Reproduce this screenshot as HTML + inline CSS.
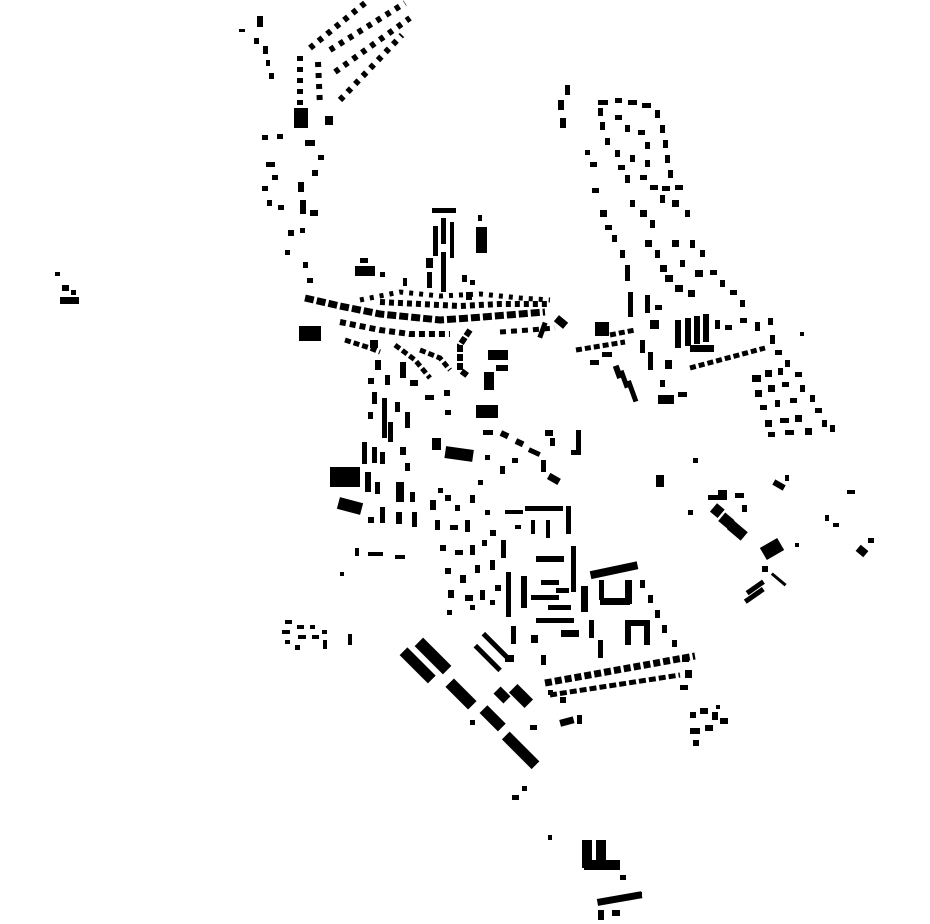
<!DOCTYPE html>
<html><head><meta charset="utf-8"><style>html,body{margin:0;padding:0;background:#fff}svg{display:block}</style></head>
<body>
<svg width="930" height="924" viewBox="0 0 930 924" xmlns="http://www.w3.org/2000/svg" fill="#000">
<!-- NW strip -->
<g>
<rect x="257" y="16" width="6" height="11"/><rect x="239" y="29" width="6" height="3"/><rect x="254" y="38" width="5" height="6"/><rect x="263" y="46" width="5" height="8"/><rect x="266" y="60" width="4" height="6"/><rect x="269" y="73" width="5" height="6"/>
<g fill="none" stroke="#000" stroke-width="6" stroke-dasharray="5 6">
<line x1="310" y1="48" x2="365" y2="3"/>
<line x1="330" y1="50" x2="405" y2="3"/>
<line x1="335" y1="72" x2="410" y2="18"/>
<line x1="340" y1="100" x2="402" y2="35"/>
<line x1="300" y1="56" x2="300" y2="106"/>
<line x1="318" y1="62" x2="320" y2="106"/>
</g>
<rect x="294" y="108" width="14" height="20"/><rect x="325" y="116" width="8" height="9"/>
</g>
<!-- column 260-330 y100-240 -->
<g>
<rect x="262" y="135" width="6" height="5"/><rect x="277" y="134" width="6" height="5"/><rect x="266" y="162" width="9" height="5"/><rect x="272" y="175" width="6" height="5"/><rect x="262" y="186" width="6" height="5"/><rect x="267" y="200" width="5" height="6"/><rect x="278" y="205" width="6" height="5"/><rect x="298" y="182" width="6" height="10"/><rect x="300" y="200" width="6" height="14"/><rect x="310" y="210" width="8" height="6"/><rect x="305" y="140" width="10" height="6"/><rect x="312" y="170" width="6" height="6"/><rect x="318" y="155" width="6" height="5"/><rect x="288" y="230" width="6" height="6"/><rect x="300" y="228" width="5" height="5"/><rect x="285" y="250" width="5" height="5"/><rect x="303" y="262" width="5" height="6"/><rect x="307" y="278" width="6" height="5"/>
<rect x="299" y="326" width="22" height="15"/>
<rect x="55" y="272" width="5" height="4"/><rect x="62" y="285" width="7" height="6"/><rect x="60" y="297" width="19" height="7"/><rect x="71" y="290" width="5" height="5"/>
</g>
<!-- central north spire -->
<g>
<rect x="432" y="208" width="24" height="5"/><rect x="441" y="218" width="5" height="26"/><rect x="450" y="222" width="4" height="36"/><rect x="433" y="226" width="5" height="30"/><rect x="426" y="258" width="7" height="10"/><rect x="441" y="252" width="5" height="40"/><rect x="427" y="272" width="5" height="16"/><rect x="476" y="227" width="11" height="26"/><rect x="478" y="215" width="4" height="6"/>
<rect x="355" y="266" width="20" height="10"/><rect x="360" y="258" width="8" height="5"/><rect x="380" y="272" width="5" height="5"/><rect x="403" y="278" width="4" height="8"/><rect x="462" y="275" width="5" height="7"/><rect x="470" y="280" width="5" height="5"/><rect x="466" y="292" width="6" height="8"/>
</g>
<!-- central dense band -->
<g fill="none" stroke="#000">
<polyline stroke-width="7" stroke-dasharray="9 3" points="305,298 340,306 380,314 440,320 470,318 520,314 545,312"/>
<polyline stroke-width="6" stroke-dasharray="6 4" points="340,322 380,330 410,334 450,334"/>
<polyline stroke-width="6" stroke-dasharray="5 4" points="380,302 420,304 460,306 500,304 550,304"/>
<polyline stroke-width="5" stroke-dasharray="4 6" points="360,300 400,292 440,296 480,294 520,298 550,300"/>
<polyline stroke-width="5" stroke-dasharray="6 5" points="500,332 530,330 555,328"/>
<polyline stroke-width="6" stroke-dasharray="7 2" points="470,330 460,345 460,370 468,376"/>
<polyline stroke-width="5" stroke-dasharray="6 3" points="345,340 370,348 380,352"/>
<polyline stroke-width="5" stroke-dasharray="6 3" points="395,345 415,360 430,378"/>
<polyline stroke-width="5" stroke-dasharray="6 3" points="420,350 440,358 450,370"/>
</g>
<g>
<rect x="555" y="318" width="12" height="8" transform="rotate(40 561 322)"/><rect x="540" y="322" width="5" height="16" transform="rotate(20 542 330)"/>
<rect x="488" y="350" width="20" height="10"/>
<rect x="484" y="372" width="10" height="18"/>
<rect x="476" y="405" width="22" height="13"/>
<rect x="496" y="365" width="12" height="6"/>
</g>
<!-- south-central west column -->
<g>
<rect x="370" y="340" width="8" height="8"/><rect x="375" y="360" width="6" height="10"/><rect x="400" y="362" width="6" height="16"/><rect x="368" y="378" width="6" height="6"/><rect x="385" y="375" width="5" height="10"/><rect x="410" y="380" width="8" height="6"/>
<rect x="372" y="392" width="5" height="12"/><rect x="382" y="398" width="5" height="40"/><rect x="395" y="402" width="5" height="10"/><rect x="405" y="412" width="5" height="16"/><rect x="388" y="422" width="5" height="20"/><rect x="368" y="412" width="5" height="7"/>
<rect x="425" y="395" width="9" height="5"/><rect x="444" y="390" width="6" height="6"/><rect x="445" y="410" width="6" height="5"/>
<rect x="362" y="442" width="5" height="22"/><rect x="372" y="447" width="5" height="16"/><rect x="380" y="452" width="5" height="12"/><rect x="400" y="447" width="6" height="8"/><rect x="405" y="463" width="5" height="8"/>
<rect x="330" y="467" width="30" height="20"/><rect x="338" y="500" width="24" height="12" transform="rotate(15 350 506)"/>
<rect x="365" y="472" width="6" height="20"/><rect x="375" y="482" width="5" height="12"/><rect x="396" y="482" width="8" height="20"/><rect x="410" y="492" width="5" height="10"/><rect x="412" y="512" width="5" height="15"/><rect x="396" y="512" width="6" height="12"/><rect x="380" y="507" width="5" height="16"/><rect x="368" y="517" width="6" height="6"/>
<rect x="432" y="438" width="9" height="12"/><rect x="445" y="448" width="28" height="12" transform="rotate(8 459 455)"/>
<rect x="355" y="548" width="4" height="8"/><rect x="368" y="552" width="15" height="4"/><rect x="395" y="555" width="10" height="4"/><rect x="340" y="572" width="4" height="4"/>
</g>
<!-- central scatter -->
<g>
<rect x="483" y="430" width="10" height="5"/><rect x="500" y="432" width="8" height="6" transform="rotate(25 505 436)"/><rect x="515" y="440" width="8" height="6" transform="rotate(25 520 444)"/><rect x="528" y="450" width="12" height="5" transform="rotate(25 535 453)"/><rect x="545" y="430" width="8" height="6"/><rect x="550" y="438" width="5" height="8"/><rect x="576" y="430" width="5" height="22"/><rect x="571" y="450" width="10" height="5"/><rect x="541" y="460" width="5" height="12"/><rect x="548" y="476" width="12" height="7" transform="rotate(30 555 479)"/><rect x="500" y="466" width="5" height="8"/><rect x="485" y="455" width="5" height="5"/><rect x="512" y="458" width="6" height="5"/>
</g>
<!-- center-south grid -->
<g>
<rect x="430" y="500" width="6" height="10"/><rect x="445" y="495" width="6" height="6"/><rect x="438" y="488" width="5" height="5"/><rect x="455" y="505" width="5" height="6"/><rect x="470" y="495" width="5" height="8"/><rect x="478" y="480" width="5" height="5"/><rect x="485" y="510" width="5" height="5"/>
<rect x="435" y="520" width="5" height="10"/><rect x="450" y="525" width="8" height="5"/><rect x="465" y="520" width="5" height="12"/><rect x="440" y="545" width="6" height="6"/><rect x="455" y="550" width="8" height="5"/><rect x="470" y="545" width="5" height="10"/><rect x="482" y="540" width="5" height="6"/><rect x="490" y="530" width="6" height="6"/>
<rect x="445" y="568" width="6" height="6"/><rect x="460" y="575" width="6" height="8"/><rect x="475" y="565" width="5" height="8"/><rect x="490" y="560" width="5" height="10"/><rect x="448" y="590" width="6" height="8"/><rect x="465" y="595" width="8" height="6"/><rect x="480" y="590" width="5" height="10"/><rect x="495" y="585" width="6" height="6"/><rect x="447" y="610" width="5" height="5"/><rect x="470" y="605" width="5" height="5"/><rect x="490" y="600" width="5" height="5"/>
<rect x="505" y="510" width="18" height="4"/><rect x="525" y="506" width="38" height="5"/><rect x="566" y="506" width="5" height="28"/><rect x="546" y="520" width="4" height="18"/><rect x="531" y="520" width="4" height="14"/><rect x="515" y="525" width="6" height="4"/>
<rect x="501" y="540" width="5" height="18"/><rect x="506" y="572" width="5" height="45"/><rect x="511" y="626" width="5" height="18"/>
<rect x="536" y="556" width="28" height="6"/><rect x="571" y="546" width="5" height="46"/><rect x="521" y="576" width="6" height="32"/><rect x="541" y="580" width="18" height="5"/><rect x="531" y="595" width="28" height="5"/><rect x="548" y="605" width="23" height="5"/><rect x="536" y="618" width="38" height="5"/><rect x="581" y="586" width="7" height="26"/><rect x="556" y="588" width="13" height="5"/><rect x="531" y="635" width="7" height="8"/><rect x="561" y="630" width="18" height="7"/><rect x="541" y="655" width="5" height="10"/><rect x="589" y="620" width="5" height="18"/>
<rect x="590" y="566" width="48" height="8" transform="rotate(-12 615 570)"/><rect x="600" y="598" width="30" height="7"/><rect x="625" y="580" width="7" height="24"/><rect x="599" y="580" width="5" height="20"/>
<rect x="625" y="620" width="6" height="25"/><rect x="625" y="620" width="25" height="6"/><rect x="644" y="620" width="6" height="25"/>
<rect x="640" y="580" width="5" height="8"/><rect x="648" y="595" width="5" height="8"/><rect x="655" y="610" width="5" height="8"/><rect x="662" y="625" width="5" height="8"/><rect x="672" y="640" width="5" height="7"/><rect x="682" y="655" width="7" height="7"/><rect x="598" y="640" width="5" height="18"/>
<g fill="none" stroke="#000" stroke-dasharray="7 3">
<line x1="545" y1="683" x2="695" y2="656" stroke-width="7"/>
<line x1="550" y1="695" x2="680" y2="675" stroke-width="5"/>
</g>
<rect x="560" y="697" width="6" height="6"/><rect x="548" y="690" width="5" height="5"/><rect x="685" y="670" width="7" height="8"/><rect x="680" y="685" width="8" height="5"/>
<rect x="560" y="718" width="14" height="7" transform="rotate(-15 567 722)"/><rect x="577" y="715" width="5" height="9"/>
</g>
<!-- SW diagonal bars -->
<g>
<rect x="398" y="660" width="40" height="11" transform="rotate(45 418 665)"/><rect x="413" y="650" width="40" height="12" transform="rotate(45 433 656)"/><rect x="445" y="688" width="32" height="12" transform="rotate(45 461 694)"/><rect x="470" y="655" width="35" height="5" transform="rotate(45 487 658)"/><rect x="478" y="643" width="35" height="5" transform="rotate(45 495 646)"/><rect x="480" y="713" width="26" height="11" transform="rotate(45 493 718)"/><rect x="510" y="690" width="22" height="12" transform="rotate(45 521 696)"/><rect x="495" y="690" width="14" height="10" transform="rotate(45 502 695)"/><rect x="500" y="745" width="42" height="11" transform="rotate(45 521 750)"/><rect x="505" y="655" width="9" height="7"/><rect x="530" y="725" width="7" height="5"/><rect x="470" y="720" width="5" height="5"/><rect x="512" y="795" width="7" height="5"/><rect x="522" y="786" width="5" height="5"/>
<rect x="285" y="620" width="7" height="4"/><rect x="282" y="630" width="8" height="4"/><rect x="285" y="640" width="5" height="4"/><rect x="297" y="625" width="7" height="4"/><rect x="298" y="635" width="8" height="4"/><rect x="295" y="645" width="5" height="5"/><rect x="310" y="625" width="5" height="4"/><rect x="312" y="635" width="7" height="4"/><rect x="322" y="630" width="5" height="4"/><rect x="323" y="640" width="4" height="9"/><rect x="348" y="634" width="4" height="11"/>
</g>
<!-- far south -->
<g>
<rect x="582" y="840" width="10" height="28"/><rect x="596" y="840" width="10" height="25"/><rect x="584" y="860" width="36" height="10"/><rect x="548" y="835" width="4" height="5"/><rect x="620" y="875" width="6" height="5"/><rect x="597" y="895" width="45" height="7" transform="rotate(-10 620 898)"/><rect x="598" y="910" width="6" height="10"/><rect x="612" y="910" width="8" height="6"/><rect x="636" y="892" width="6" height="6"/>
</g>
<!-- east big cluster -->
<g>
<rect x="565" y="85" width="5" height="10"/><rect x="558" y="100" width="6" height="10"/><rect x="560" y="118" width="6" height="10"/>
<rect x="598" y="100" width="10" height="5"/><rect x="615" y="98" width="7" height="5"/><rect x="628" y="100" width="9" height="5"/><rect x="642" y="103" width="9" height="5"/><rect x="655" y="110" width="5" height="8"/><rect x="660" y="125" width="5" height="8"/><rect x="663" y="140" width="5" height="8"/><rect x="665" y="155" width="5" height="8"/>
<rect x="598" y="108" width="5" height="8"/><rect x="600" y="122" width="5" height="8"/><rect x="605" y="138" width="5" height="7"/><rect x="615" y="115" width="7" height="5"/><rect x="625" y="125" width="5" height="7"/><rect x="638" y="130" width="7" height="5"/><rect x="645" y="142" width="5" height="7"/>
<rect x="585" y="150" width="5" height="5"/><rect x="590" y="162" width="7" height="5"/><rect x="592" y="188" width="7" height="5"/><rect x="615" y="150" width="5" height="7"/><rect x="618" y="165" width="7" height="5"/><rect x="625" y="175" width="5" height="8"/><rect x="630" y="155" width="5" height="7"/><rect x="645" y="160" width="5" height="7"/><rect x="640" y="175" width="7" height="5"/><rect x="650" y="185" width="8" height="5"/><rect x="662" y="186" width="8" height="5"/><rect x="675" y="185" width="8" height="5"/><rect x="660" y="195" width="5" height="8"/><rect x="668" y="170" width="5" height="8"/><rect x="672" y="200" width="7" height="7"/><rect x="685" y="210" width="5" height="7"/>
<rect x="600" y="210" width="7" height="7"/><rect x="605" y="225" width="7" height="5"/><rect x="612" y="235" width="5" height="7"/><rect x="620" y="250" width="5" height="8"/><rect x="625" y="265" width="5" height="16"/><rect x="628" y="292" width="5" height="25"/><rect x="630" y="200" width="5" height="7"/><rect x="640" y="210" width="7" height="7"/><rect x="650" y="220" width="5" height="8"/><rect x="645" y="240" width="7" height="7"/><rect x="655" y="250" width="5" height="8"/><rect x="660" y="265" width="7" height="7"/><rect x="665" y="275" width="8" height="7"/><rect x="675" y="285" width="8" height="7"/><rect x="680" y="260" width="5" height="7"/><rect x="672" y="240" width="7" height="7"/><rect x="690" y="240" width="5" height="8"/><rect x="700" y="250" width="5" height="7"/><rect x="710" y="270" width="7" height="5"/><rect x="720" y="280" width="5" height="7"/><rect x="730" y="290" width="7" height="5"/><rect x="740" y="300" width="5" height="7"/><rect x="695" y="270" width="8" height="7"/><rect x="688" y="290" width="7" height="7"/>
<rect x="645" y="295" width="5" height="18"/><rect x="655" y="305" width="7" height="5"/><rect x="650" y="320" width="9" height="9"/>
<rect x="595" y="322" width="14" height="14"/>
<g fill="none" stroke="#000" stroke-dasharray="6 3" stroke-width="5">
<line x1="576" y1="350" x2="625" y2="342"/><line x1="610" y1="335" x2="635" y2="330"/><line x1="690" y1="368" x2="765" y2="348"/>
</g>
<rect x="590" y="360" width="9" height="5"/><rect x="602" y="352" width="10" height="5"/><rect x="615" y="365" width="6" height="13" transform="rotate(-20 619 372)"/><rect x="622" y="370" width="5" height="18" transform="rotate(-20 625 380)"/><rect x="630" y="380" width="5" height="22" transform="rotate(-20 633 392)"/><rect x="640" y="340" width="5" height="13"/><rect x="648" y="352" width="5" height="18"/><rect x="658" y="395" width="16" height="9"/><rect x="678" y="392" width="9" height="5"/>
<rect x="675" y="320" width="6" height="28"/><rect x="685" y="318" width="6" height="28"/><rect x="694" y="316" width="6" height="28"/><rect x="703" y="314" width="6" height="28"/><rect x="690" y="345" width="24" height="7"/><rect x="715" y="320" width="5" height="9"/><rect x="725" y="325" width="7" height="5"/><rect x="740" y="318" width="7" height="5"/><rect x="755" y="322" width="5" height="9"/><rect x="768" y="318" width="5" height="7"/>
<rect x="665" y="360" width="7" height="9"/><rect x="660" y="380" width="5" height="7"/>
<rect x="770" y="335" width="5" height="9"/><rect x="775" y="350" width="7" height="5"/><rect x="785" y="360" width="5" height="7"/><rect x="795" y="372" width="7" height="5"/><rect x="800" y="385" width="5" height="7"/><rect x="810" y="395" width="5" height="7"/><rect x="815" y="408" width="7" height="5"/><rect x="822" y="420" width="5" height="7"/><rect x="830" y="425" width="5" height="7"/><rect x="800" y="332" width="4" height="4"/>
<rect x="752" y="375" width="9" height="7"/><rect x="765" y="370" width="7" height="7"/><rect x="778" y="368" width="5" height="7"/><rect x="755" y="390" width="7" height="7"/><rect x="768" y="385" width="7" height="7"/><rect x="782" y="382" width="7" height="5"/><rect x="760" y="405" width="7" height="5"/><rect x="775" y="400" width="5" height="7"/><rect x="790" y="398" width="7" height="5"/><rect x="765" y="420" width="7" height="7"/><rect x="780" y="418" width="9" height="5"/><rect x="795" y="415" width="7" height="7"/><rect x="768" y="432" width="7" height="5"/><rect x="785" y="430" width="9" height="5"/><rect x="805" y="428" width="7" height="7"/>
</g>
<!-- east scattered -->
<g>
<rect x="656" y="475" width="8" height="12"/><rect x="693" y="458" width="5" height="5"/><rect x="688" y="510" width="5" height="5"/>
<rect x="708" y="495" width="12" height="5"/><rect x="718" y="490" width="9" height="10"/><rect x="735" y="493" width="9" height="5"/><rect x="712" y="505" width="10" height="11" transform="rotate(40 717 511)"/><rect x="720" y="515" width="12" height="11" transform="rotate(40 726 521)"/><rect x="728" y="525" width="18" height="11" transform="rotate(40 737 531)"/><rect x="742" y="505" width="5" height="7"/><rect x="762" y="542" width="20" height="14" transform="rotate(-30 772 549)"/><rect x="745" y="585" width="20" height="5" transform="rotate(-35 755 587)"/><rect x="743" y="593" width="22" height="5" transform="rotate(-35 754 595)"/><rect x="770" y="578" width="18" height="3" transform="rotate(40 779 579)"/><rect x="762" y="566" width="6" height="6"/><rect x="795" y="543" width="4" height="4"/>
<rect x="773" y="482" width="12" height="6" transform="rotate(30 779 485)"/><rect x="785" y="475" width="4" height="6"/><rect x="847" y="490" width="8" height="4"/><rect x="825" y="515" width="4" height="6"/><rect x="833" y="523" width="6" height="4"/><rect x="857" y="547" width="10" height="8" transform="rotate(40 862 551)"/><rect x="868" y="538" width="6" height="5"/>
<rect x="690" y="712" width="6" height="6"/><rect x="700" y="708" width="8" height="6"/><rect x="712" y="712" width="6" height="8"/><rect x="720" y="718" width="8" height="6"/><rect x="690" y="728" width="10" height="6"/><rect x="705" y="725" width="8" height="6"/><rect x="693" y="740" width="6" height="6"/><rect x="716" y="705" width="4" height="4"/>
</g>
</svg>
</body></html>
